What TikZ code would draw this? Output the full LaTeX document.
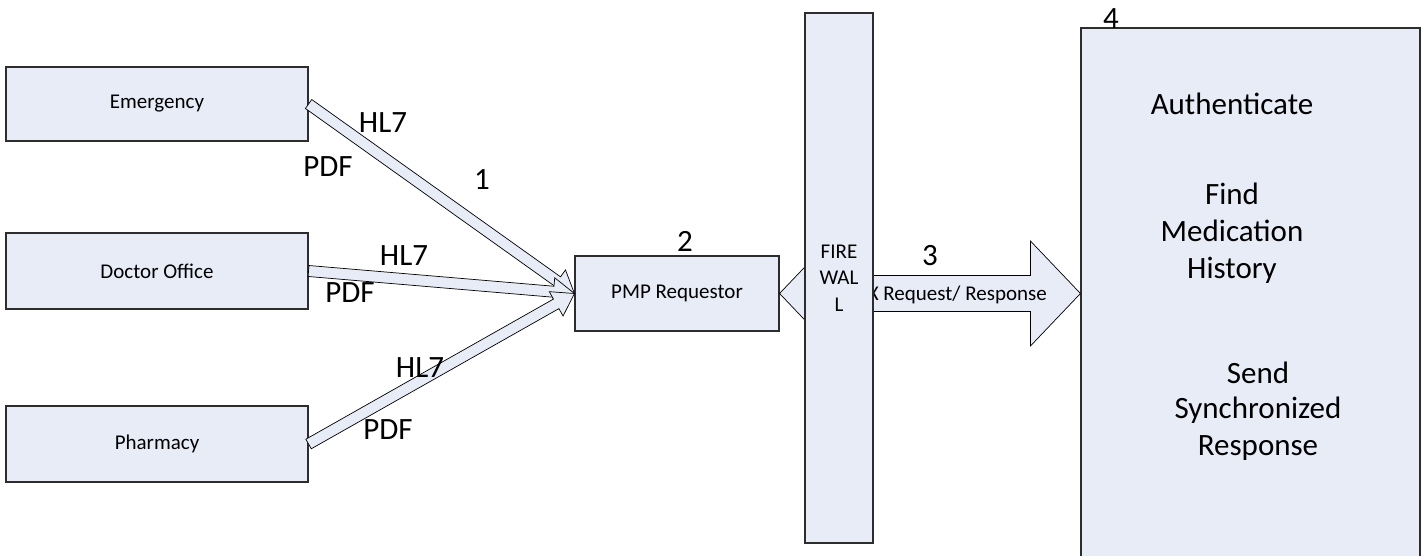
\documentclass[tikz,border=0pt]{standalone}
\usepackage{fontspec}
\setmainfont{Carlito}
\usetikzlibrary{calc}
\definecolor{boxfill}{RGB}{231,236,247}
\definecolor{edge}{RGB}{45,45,45}
\tikzset{
  box/.style={draw=edge, fill=boxfill, line width=1.1pt, rectangle, inner sep=0pt,
    font=\fontsize{21}{25}\selectfont},
  blk/.style={draw=black, fill=boxfill, line width=0.7pt, line join=miter},
  lbl/.style={font=\fontsize{31}{37}\selectfont, inner sep=0pt},
  small/.style={font=\fontsize{21}{25}\selectfont, inner sep=0pt},
}
\newcommand{\blkarrow}[2]{%
  \coordinate (ha) at ($(#2)!21pt!(#1)$);
  \draw[blk] ($(#1)!5.5pt!90:(#2)$) -- ($(ha)!5.5pt!-90:(#1)$) -- ($(ha)!14pt!-90:(#1)$)
    -- (#2) -- ($(ha)!14pt!90:(#1)$) -- ($(ha)!5.5pt!90:(#1)$) -- ($(#1)!5.5pt!-90:(#2)$) -- cycle;}
\begin{document}
\begin{tikzpicture}[x=1pt,y=-1pt]
\clip (0,0) rectangle (1427,556);
\fill[white] (0,0) rectangle (1427,556);
% source boxes
\node[box, minimum width=302pt, minimum height=74pt] (em) at (157,104) {Emergency};
\node[box, minimum width=302pt, minimum height=76pt] (doc) at (157,271) {Doctor Office};
\node[box, minimum width=302pt, minimum height=76pt] (ph) at (157,444) {Pharmacy};
% PMP requestor
\node[box, minimum width=204pt, minimum height=75pt] (pmp) at (677,293.5) {PMP Requestor};
% block arrows
\blkarrow{em.east}{pmp.west}
\blkarrow{doc.east}{pmp.west}
\blkarrow{ph.east}{pmp.west}
% big box 4
\node[box, minimum width=339pt, minimum height=572pt] (auth) at (1250.5,314) {};
% double block arrow
\coordinate (dl) at (pmp.east);
\coordinate (dr) at (pmp.east -| auth.west);
\draw[blk] (dl) -- ($(dl)+(50,-52.5)$) -- ($(dl)+(50,-18)$) -- ($(dr)+(-50,-18)$)
  -- ($(dr)+(-50,-52.5)$) -- (dr) -- ($(dr)+(-50,52.5)$) -- ($(dr)+(-50,18)$)
  -- ($(dl)+(50,18)$) -- ($(dl)+(50,52.5)$) -- cycle;
\node[small, anchor=base east] (req) at (1047,300) {X Request/ Response};
% firewall
\node[box, minimum width=68pt, minimum height=530pt, align=center,
  font=\fontsize{21}{26.5}\selectfont] (fw) at (839,278) {FIRE\\WAL\\L};
% labels
\node[lbl] (hl7a) at (383,123) {HL7};
\node[lbl] (pdfa) at (328,167) {PDF};
\node[lbl] (n1) at (482,180) {1};
\node[lbl] (hl7b) at (404,256) {HL7};
\node[lbl] (pdfb) at (350,293) {PDF};
\node[lbl] (hl7c) at (420,368) {HL7};
\node[lbl] (pdfc) at (388,430) {PDF};
\node[lbl] (n2) at (685,241) {2};
\node[lbl] (n3) at (930,256) {3};
\node[lbl] (n4) at (1111,19) {4};
% box 4 texts
\node[lbl, anchor=base] (t1) at (1232,115) {Authenticate};
\node[lbl, anchor=base] (t2) at (1232,205) {Find};
\node[lbl, anchor=base] (t3) at (1232,242) {Medication};
\node[lbl, anchor=base] (t4) at (1232,278) {History};
\node[lbl, anchor=base] (t5) at (1258,383) {Send};
\node[lbl, anchor=base] (t6) at (1258,418) {Synchronized};
\node[lbl, anchor=base] (t7) at (1258,455) {Response};
\end{tikzpicture}
\end{document}
